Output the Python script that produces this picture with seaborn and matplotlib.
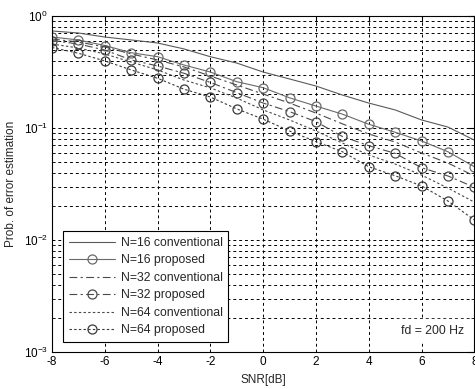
import numpy as np
import pandas as pd
import matplotlib
matplotlib.use("Agg")
import matplotlib.pyplot as plt
import seaborn as sns
from matplotlib.ticker import LogLocator, NullFormatter, FixedLocator

snr = list(range(-8, 9))

conv16 = [0.735, 0.705, 0.649, 0.611, 0.574, 0.508, 0.433, 0.380, 0.316, 0.274,
          0.237, 0.197, 0.167, 0.145, 0.118, 0.102, 0.078]
prop16 = [0.649, 0.611, 0.545, 0.470, 0.433, 0.365, 0.316, 0.259, 0.229, 0.186,
          0.157, 0.133, 0.108, 0.0916, 0.0766, 0.0614, 0.0451]
conv32 = [0.623, 0.586, 0.529, 0.458, 0.405, 0.351, 0.291, 0.242, 0.201, 0.167,
          0.136, 0.109, 0.0884, 0.0750, 0.0598, 0.0487, 0.0373]
prop32 = [0.604, 0.562, 0.497, 0.405, 0.358, 0.308, 0.255, 0.207, 0.167, 0.140,
          0.114, 0.084, 0.0695, 0.0594, 0.0442, 0.0373, 0.0296]
conv64 = [0.562, 0.518, 0.458, 0.388, 0.330, 0.268, 0.228, 0.185, 0.145, 0.118,
          0.094, 0.0735, 0.0574, 0.0477, 0.0380, 0.0291, 0.0218]
prop64 = [0.523, 0.465, 0.397, 0.330, 0.278, 0.222, 0.189, 0.148, 0.120, 0.094,
          0.0755, 0.0614, 0.0451, 0.0375, 0.0304, 0.0223, 0.0151]

labels = ["N=16 conventional", "N=16 proposed", "N=32 conventional",
          "N=32 proposed", "N=64 conventional", "N=64 proposed"]
x_ticks = [-8, -6, -4, -2, 0, 2, 4, 6, 8]

sns.set_style("white")
plt.rcParams['font.family'] = ['Liberation Sans', 'DejaVu Sans']

fig = plt.figure(figsize=(4.75, 3.89), dpi=100)
ax = fig.add_axes([0.1095, 0.0951, 0.889, 0.8638])

series = [conv16, prop16, conv32, prop32, conv64, prop64]
styles = [
    dict(linestyle='-', color='#5a5a5a', marker=None),
    dict(linestyle='-', color='#6a6a6a', marker='o'),
    dict(linestyle=(0, (7, 3, 2, 3)), color='#4a4a4a', marker=None),
    dict(linestyle=(0, (7, 3, 2, 3)), color='#4a4a4a', marker='o'),
    dict(linestyle=(0, (2.2, 2)), color='#4a4a4a', marker=None),
    dict(linestyle=(0, (2.2, 2)), color='#3a3a3a', marker='o'),
]

for vals, lab, st in zip(series, labels, styles):
    df = pd.DataFrame({"snr": snr, "p": vals})
    kw = dict(linestyle=st['linestyle'], color=st['color'], linewidth=0.8, label=lab)
    if st['marker']:
        kw.update(marker='o', markersize=6.5, markerfacecolor='none',
                  markeredgecolor=st['color'], markeredgewidth=0.9)
    sns.lineplot(data=df, x="snr", y="p", ax=ax, **kw)

ax.set_yscale('log')
ax.set_xlim(-8, 8)
ax.set_ylim(1e-3, 1)
ax.xaxis.set_major_locator(FixedLocator(x_ticks))
ax.set_xticklabels([str(t) for t in x_ticks])
ax.yaxis.set_major_locator(LogLocator(base=10, numticks=10))
ax.yaxis.set_minor_locator(LogLocator(base=10, subs=np.arange(2, 10), numticks=20))
ax.yaxis.set_minor_formatter(NullFormatter())

ax.grid(True, which='major', axis='x', color='black', linestyle=(0, (3, 3)), linewidth=0.7)
ax.grid(True, which='both', axis='y', color='black', linestyle=(0, (3, 3)), linewidth=0.7)
ax.set_axisbelow(True)

ax.tick_params(axis='both', which='major', direction='in', length=4, labelsize=8.5,
               colors='black', top=True, right=True, width=0.8, pad=3)
ax.tick_params(axis='y', which='minor', direction='in', length=2, right=True, left=True)
for sp in ax.spines.values():
    sp.set_color('black')
    sp.set_linewidth(0.8)

ax.set_xlabel("SNR[dB]", fontsize=8.5, labelpad=4)
ax.set_ylabel("Prob. of error estimation", fontsize=8.5, labelpad=5)

leg = ax.legend(loc='lower left', bbox_to_anchor=(0.012, 0.012), fontsize=8.8, frameon=True,
                fancybox=False, edgecolor='black', framealpha=1, handlelength=3.8,
                borderpad=0.45, labelspacing=0.45, handletextpad=0.45)
leg.get_frame().set_linewidth(0.8)

ax.text(0.975, 0.045, "fd = 200 Hz", transform=ax.transAxes, ha='right', va='bottom',
        fontsize=8.8, backgroundcolor='white')

fig.savefig("out.png", dpi=100)
